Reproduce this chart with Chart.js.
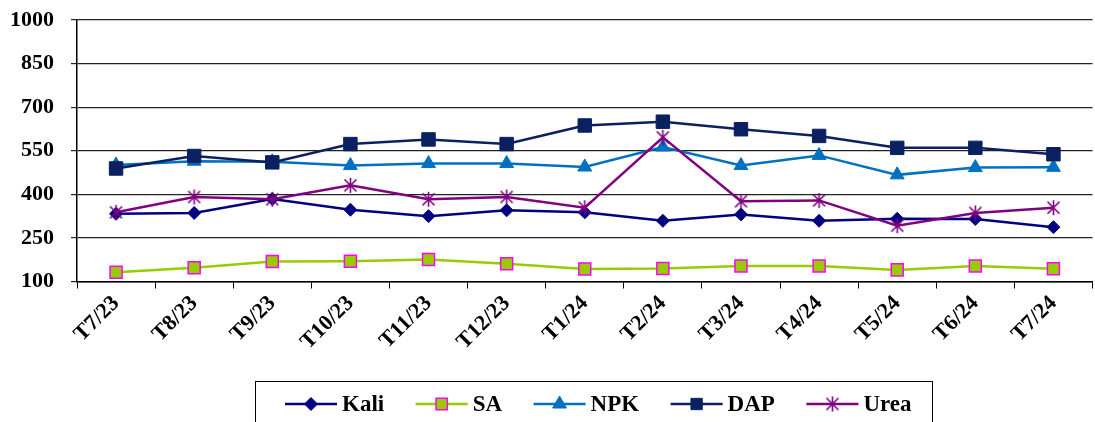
<!DOCTYPE html>
<html>
<head>
<meta charset="utf-8">
<script src="https://cdn.jsdelivr.net/npm/chart.js@4/dist/chart.umd.min.js"></script>
<style>
  html, body { margin: 0; padding: 0; background: #fff; overflow: hidden; }
  #wrap { position: relative; width: 1103px; height: 422px; }
</style>
</head>
<body>
<div id="wrap"><canvas id="c"></canvas></div>
<script>
// Monthly fertilizer prices, July 2023 – July 2024
const months = ['T7/23','T8/23','T9/23','T10/23','T11/23','T12/23','T1/24','T2/24','T3/24','T4/24','T5/24','T6/24','T7/24'];
const kali = [333, 336, 384, 347, 325, 345, 338, 309, 331, 309, 316, 315, 287];
const sa   = [132, 147, 169, 170, 176, 161, 143, 145, 153, 153, 140, 153, 144];
const npk  = [501, 514, 512, 499, 506, 506, 494, 563, 499, 534, 467, 492, 493];
const dap  = [489, 532, 510, 573, 589, 573, 637, 650, 624, 601, 560, 560, 538];
const urea = [338, 391, 383, 431, 383, 391, 354, 596, 376, 379, 292, 336, 354];
const yTicks = [100, 250, 400, 550, 700, 850, 1000];

const SERIF = '"Liberation Serif", "Times New Roman", serif';

// asterisk marker: vertical stroke crossed by an X
function makeStar(size, color, lw) {
  const c = document.createElement('canvas');
  c.width = size; c.height = size;
  const g = c.getContext('2d');
  g.strokeStyle = color; g.lineWidth = lw; g.lineCap = 'butt';
  const m = size / 2, r = size / 2 - 1;
  g.beginPath();
  g.moveTo(m, m - r); g.lineTo(m, m + r);
  g.moveTo(m - r * 0.8, m - r * 0.8); g.lineTo(m + r * 0.8, m + r * 0.8);
  g.moveTo(m + r * 0.8, m - r * 0.8); g.lineTo(m - r * 0.8, m + r * 0.8);
  g.stroke();
  return c;
}
const starImg = makeStar(17, '#800080', 1.6);

const series = [
  { label: 'Kali', data: kali, color: '#000080', fill: '#000080', style: 'rectRot', radius: 6.5, border: '#000080', bw: 1, order: 4 },
  { label: 'SA',   data: sa,   color: '#99CC00', fill: '#99CC00', style: 'rect',    radius: 8.5, border: '#FF00FF', bw: 1.5, order: 3 },
  { label: 'NPK',  data: npk,  color: '#0070C0', fill: '#0070C0', style: 'triangle', radius: 8, border: '#0070C0', bw: 1, order: 2 },
  { label: 'DAP',  data: dap,  color: '#0A2060', fill: '#0A2060', style: 'rect',    radius: 9.5, border: '#0A2060', bw: 1, order: 1 },
  { label: 'Urea', data: urea, color: '#800080', fill: '#800080', style: starImg,   radius: 8, border: '#800080', bw: 1, order: 0 }
];

// boxed legend drawn under the axis labels
const boxLegend = {
  id: 'boxLegend',
  afterDraw(chart) {
    const ctx = chart.ctx;
    const cy = 404;
    const lineLen = 52, gapText = 5, gapItem = 31.5;
    ctx.save();
    ctx.font = 'bold 23px ' + SERIF;
    let x = 285;
    const startX = x;
    series.forEach(s => {
      ctx.strokeStyle = s.color; ctx.lineWidth = 2.5;
      ctx.beginPath(); ctx.moveTo(x, cy); ctx.lineTo(x + lineLen, cy); ctx.stroke();
      const mx = x + lineLen / 2;
      if (s.style === starImg) {
        ctx.drawImage(starImg, mx - starImg.width / 2, cy - starImg.height / 2);
      } else {
        ctx.fillStyle = s.fill; ctx.strokeStyle = s.border; ctx.lineWidth = s.bw;
        Chart.helpers.drawPoint(ctx, {
          pointStyle: s.style, radius: s.style === 'rect' ? 8 : s.radius, rotation: 0, borderWidth: s.bw
        }, mx, cy);
      }
      x += lineLen + gapText;
      ctx.fillStyle = '#000'; ctx.textAlign = 'left'; ctx.textBaseline = 'middle';
      ctx.fillText(s.label, x, cy + 1);
      x += ctx.measureText(s.label).width + gapItem;
    });
    const endX = x - gapItem;
    ctx.strokeStyle = '#000'; ctx.lineWidth = 1;
    ctx.strokeRect(Math.round(startX - 30) + 0.5, 381.5, Math.round(endX + 20 - (startX - 30)), 60);
    ctx.restore();
  }
};

new Chart(document.getElementById('c'), {
  type: 'line',
  data: {
    labels: months,
    datasets: series.map(s => ({
      label: s.label,
      data: s.data,
      borderColor: s.color,
      borderWidth: 2.5,
      backgroundColor: s.fill,
      pointStyle: s.style,
      pointRadius: s.radius,
      pointHoverRadius: s.radius,
      pointBackgroundColor: s.fill,
      pointBorderColor: s.border,
      pointBorderWidth: s.bw,
      tension: 0,
      fill: false,
      order: s.order
    }))
  },
  options: {
    responsive: true,
    maintainAspectRatio: false,
    animation: false,
    events: [],
    layout: { padding: { top: 20, left: 0, right: 1, bottom: 0 } },
    plugins: { legend: { display: false }, tooltip: { enabled: false } },
    scales: {
      x: {
        type: 'category',
        offset: true,
        grid: { display: true, drawOnChartArea: false, drawTicks: true, tickLength: 7, color: '#000', offset: true, lineWidth: 1 },
        border: { display: true, color: '#000', width: 1.5 },
        ticks: {
          color: '#000', font: { family: SERIF, size: 22, weight: 'bold' },
          minRotation: 45, maxRotation: 45, autoSkip: false, padding: 2
        },
        afterFit(scale) { scale.height = 140.5; }
      },
      y: {
        min: 100, max: 1000,
        afterBuildTicks(scale) { scale.ticks = yTicks.map(v => ({ value: v })); },
        grid: { color: '#222', lineWidth: 1.2, drawTicks: true, tickLength: 6 },
        border: { display: true, color: '#000', width: 1.5 },
        ticks: {
          color: '#000', font: { family: SERIF, size: 22, weight: 'bold' }, padding: 17,
          callback: v => String(v)
        },
        afterFit(scale) {
          scale.width = 77;
          scale.paddingTop = 0;
          scale.paddingBottom = 0;
        }
      }
    }
  },
  plugins: [boxLegend]
});
</script>
</body>
</html>
